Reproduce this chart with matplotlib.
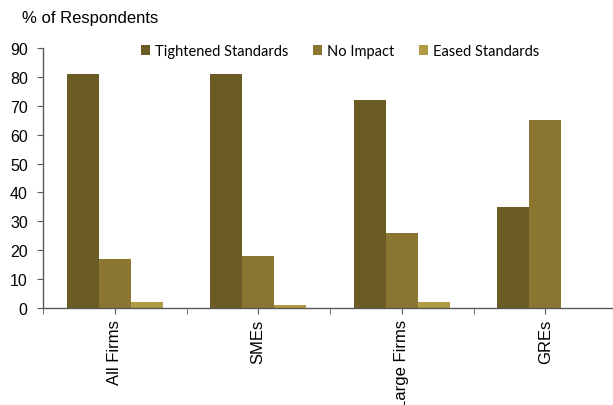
import matplotlib
matplotlib.use("Agg")
import matplotlib.pyplot as plt
import numpy as np

categories = ["All Firms", "SMEs", "Large Firms", "GREs"]
series_names = ["Tightened Standards", "No Impact", "Eased Standards"]
tightened = [81, 81, 72, 35]
no_impact = [17, 18, 26, 65]
eased = [2, 1, 2, 0]
colors = ["#6b5b24", "#8a7630", "#b09a43"]
yticks = [0, 10, 20, 30, 40, 50, 60, 70, 80, 90]

plt.rcParams['font.family'] = ['Liberation Sans', 'DejaVu Sans']

W, H = 613, 406
fig = plt.figure(figsize=(W / 100, H / 100), dpi=100)
left, right, top, bottom = 43, 617, 49, 309
ax = fig.add_axes([left / W, (H - bottom) / H, (right - left) / W, (bottom - top) / H])

x = np.arange(len(categories))
bw = 1 / 4.5
for k, (vals, name, c) in enumerate(zip([tightened, no_impact, eased], series_names, colors)):
    ax.bar(x + (k - 1) * bw, vals, width=bw, color=c, label=name, linewidth=0)

ax.set_xlim(-0.5, len(categories) - 0.5)
ax.set_ylim(0, 90)
ax.set_yticks(yticks)
ax.set_yticklabels([str(v) for v in yticks], fontsize=11.5)
ax.set_xticks(x)
ax.set_xticklabels(categories, rotation=90, fontsize=12, va='top')
ax.set_xticks(np.arange(-0.5, len(categories) + 0.5, 1), minor=True)

for s in ['top', 'right']:
    ax.spines[s].set_visible(False)
for s in ['left', 'bottom']:
    ax.spines[s].set_color('#595959')
    ax.spines[s].set_linewidth(1.0)
ax.tick_params(axis='y', direction='out', length=4, color='#595959', pad=7, labelcolor='black')
ax.tick_params(axis='x', which='both', direction='out', length=4, color='#595959', pad=4)

leg = ax.legend(loc='center', bbox_to_anchor=((340 - left) / (right - left), (bottom - 52) / (bottom - top)),
                ncol=3, frameon=False, handlelength=0.65, handleheight=0.65,
                handletextpad=0.3, columnspacing=1.7,
                prop={'family': 'Lato', 'size': 10.5})

fig.text(22 / W, 1 - 18 / H, "% of Respondents", fontsize=12, va='center', ha='left')

fig.savefig("out.png", dpi=100)
